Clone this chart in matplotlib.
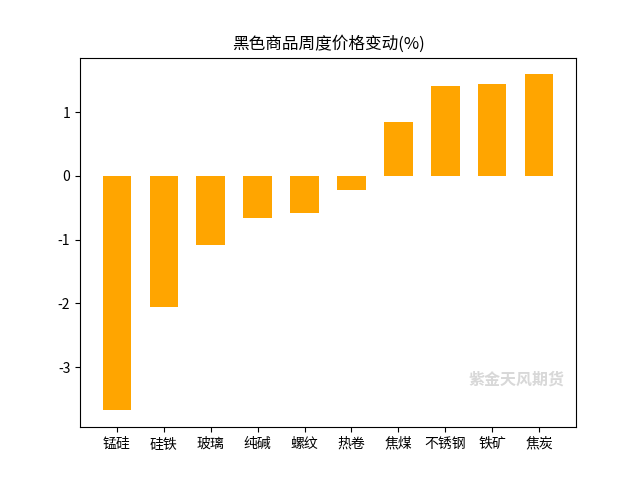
import matplotlib
matplotlib.use("Agg")
import matplotlib.pyplot as plt

plt.rcParams["font.family"] = ["Noto Sans CJK SC", "DejaVu Sans"]
plt.rcParams["axes.unicode_minus"] = False

products = ["锰硅", "硅铁", "玻璃", "纯碱", "螺纹", "热卷", "焦煤", "不锈钢", "铁矿", "焦炭"]
changes = [-3.68, -2.06, -1.08, -0.67, -0.58, -0.22, 0.85, 1.41, 1.44, 1.59]


def main():
    fig, ax = plt.subplots(figsize=(6.4, 4.8), dpi=100)
    x = range(len(products))
    ax.bar(x, changes, width=0.6, color="orange")
    ax.set_xticks(list(x))
    ax.set_xticklabels(products)
    ax.set_title("黑色商品周度价格变动(%)")

    # faint watermark
    ax.text(0.88, 0.13, "紫金天风期货", transform=ax.transAxes, fontsize=11.5,
            color="#d8d8d8", ha="center", va="center", fontweight="bold")

    fig.savefig("out.png", dpi=100)


if __name__ == "__main__":
    main()
